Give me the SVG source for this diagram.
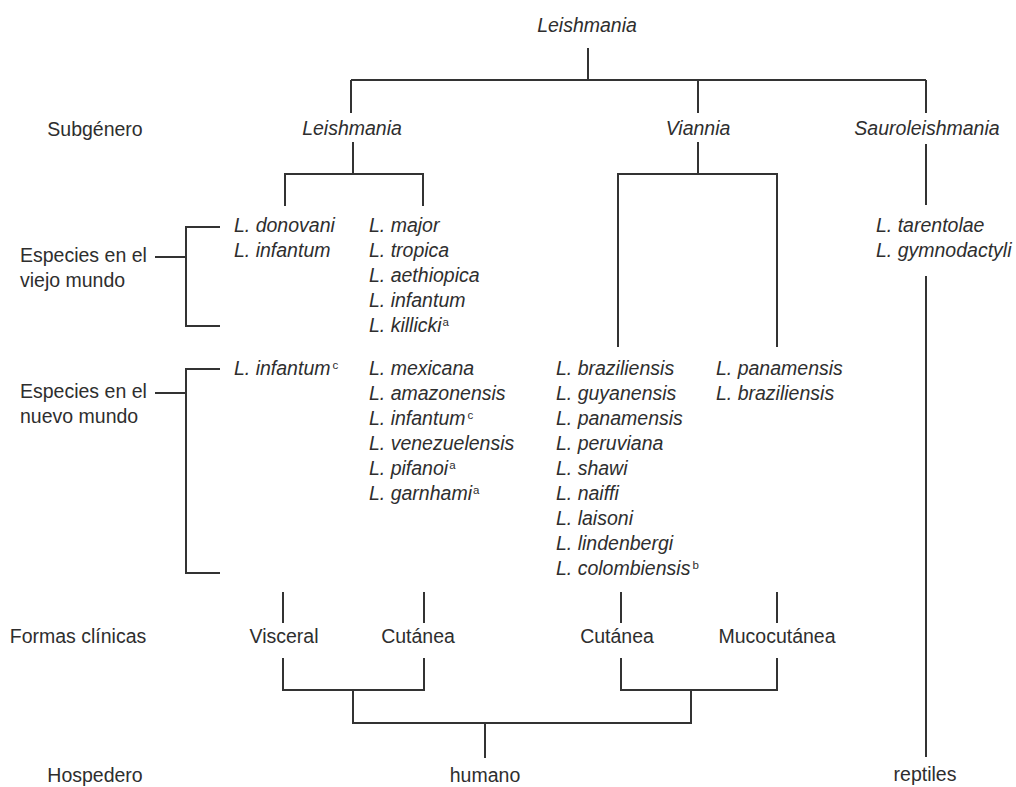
<svg xmlns="http://www.w3.org/2000/svg" width="1016" height="787" viewBox="0 0 1016 787">
<style>
text{font-family:"Liberation Sans",Arial,sans-serif;font-size:19.5px;fill:#2e2e2e}
.i{font-style:italic}
.m{text-anchor:middle}
.sup{font-size:11.5px;font-style:normal}
.c path{fill:none;stroke:#333;stroke-width:2;stroke-linejoin:miter}
</style>
<rect width="1016" height="787" fill="#fff"/>
<g id="connectors" class="c">
<path d="M588 48V80M351 80H926M351 80V113M698 80V113M926 80V113"/>
<path d="M353 142V174M285 206V174H423V206"/>
<path d="M698 142V174M618 347V174H777V347"/>
<path d="M926 144V205M926 276V757"/>
<path d="M220 227H186V326H220M155 257H186"/>
<path d="M220 369H186V573H220M155 393H186"/>
<path d="M283 592V623M424 592V623M621 592V623M777 592V623"/>
<path d="M283 658V690H424V658M621 658V690H777V658"/>
<path d="M353 690V723H691V690M485 723V758"/>
</g>
<g id="labels">
<text x="95" y="136" class="m">Subgénero</text>
<text x="20" y="262">Especies en el</text>
<text x="20" y="287">viejo mundo</text>
<text x="20" y="398">Especies en el</text>
<text x="20" y="423">nuevo mundo</text>
<text x="78" y="643" class="m">Formas clínicas</text>
<text x="95" y="782" class="m">Hospedero</text>
</g>
<g id="root"><text x="587" y="32" class="i m">Leishmania</text></g>
<g id="sub-leishmania"><text x="352" y="135" class="i m">Leishmania</text></g>
<g id="sub-viannia"><text x="698" y="135" class="i m">Viannia</text></g>
<g id="sub-sauroleishmania"><text x="927" y="135" class="i m">Sauroleishmania</text></g>
<g id="old-visceral" class="i">
<text x="234" y="232">L. donovani</text>
<text x="234" y="257">L. infantum</text>
</g>
<g id="old-cutanea" class="i">
<text x="369" y="232">L. major</text>
<text x="369" y="257">L. tropica</text>
<text x="369" y="282">L. aethiopica</text>
<text x="369" y="307">L. infantum</text>
<text x="369" y="332">L. killicki<tspan class="sup" dx="1" dy="-6">a</tspan></text>
</g>
<g id="new-visceral" class="i">
<text x="234" y="375">L. infantum<tspan class="sup" dx="2" dy="-6">c</tspan></text>
</g>
<g id="new-cutanea" class="i">
<text x="369" y="375">L. mexicana</text>
<text x="369" y="400">L. amazonensis</text>
<text x="369" y="425">L. infantum<tspan class="sup" dx="2" dy="-6">c</tspan></text>
<text x="369" y="450">L. venezuelensis</text>
<text x="369" y="475">L. pifanoi<tspan class="sup" dx="1" dy="-6">a</tspan></text>
<text x="369" y="500">L. garnhami<tspan class="sup" dx="1" dy="-6">a</tspan></text>
</g>
<g id="viannia-cutanea" class="i">
<text x="556" y="375">L. braziliensis</text>
<text x="556" y="400">L. guyanensis</text>
<text x="556" y="425">L. panamensis</text>
<text x="556" y="450">L. peruviana</text>
<text x="556" y="475">L. shawi</text>
<text x="556" y="500">L. naiffi</text>
<text x="556" y="525">L. laisoni</text>
<text x="556" y="550">L. lindenbergi</text>
<text x="556" y="575">L. colombiensis<tspan class="sup" dx="2" dy="-6">b</tspan></text>
</g>
<g id="viannia-mucocutanea" class="i">
<text x="716" y="375">L. panamensis</text>
<text x="716" y="400">L. braziliensis</text>
</g>
<g id="sauro-species" class="i">
<text x="876" y="232">L. tarentolae</text>
<text x="876" y="257">L. gymnodactyli</text>
</g>
<g id="form-visceral"><text x="284" y="643" class="m">Visceral</text></g>
<g id="form-cutanea-l"><text x="418" y="643" class="m">Cutánea</text></g>
<g id="form-cutanea-v"><text x="617" y="643" class="m">Cutánea</text></g>
<g id="form-mucocutanea"><text x="777" y="643" class="m">Mucocutánea</text></g>
<g id="host-humano"><text x="485" y="782" class="m">humano</text></g>
<g id="host-reptiles"><text x="925" y="781" class="m">reptiles</text></g>
</svg>
